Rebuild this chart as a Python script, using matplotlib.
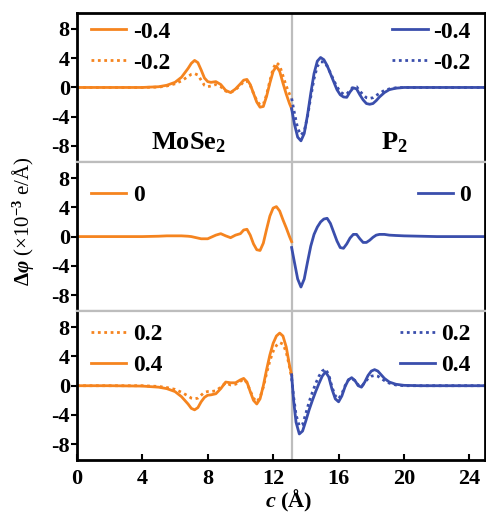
import numpy as np
import matplotlib
matplotlib.use("Agg")
import matplotlib.pyplot as plt

plt.rcParams['font.family'] = ['Liberation Serif', 'DejaVu Serif']
plt.rcParams['mathtext.fontset'] = 'custom'
plt.rcParams['mathtext.rm'] = 'Liberation Serif:bold'
plt.rcParams['mathtext.it'] = 'Liberation Serif:bold:italic'
plt.rcParams['mathtext.bf'] = 'Liberation Serif:bold'

orange = '#F5841F'
blue = '#3A4EAC'
grey = '#BDBDBD'
c_interface = 13.13

# MoSe2 side (orange)
x_mo = [0, 2, 4, 5, 5.5, 6, 6.4, 6.8, 7.0, 7.2, 7.4, 7.6, 7.8, 8.0, 8.2, 8.5, 8.8, 9.1, 9.4,
        9.7, 10.0, 10.2, 10.4, 10.6, 10.8, 11.0, 11.2, 11.4, 11.6, 11.8, 12.0, 12.2, 12.4,
        12.6, 12.8, 13.0, 13.13]
mo_m04 = [0, 0, 0, 0.1, 0.3, 0.7, 1.4, 2.6, 3.3, 3.7, 3.4, 2.4, 1.3, 0.8, 0.7, 0.8, 0.4, -0.4,
          -0.7, -0.2, 0.5, 1.0, 1.1, 0.4, -0.8, -2.0, -2.7, -2.6, -1.2, 0.6, 2.2, 2.9, 2.2,
          0.6, -0.9, -2.2, -2.9]
mo_m02 = [0, 0, 0, 0.05, 0.2, 0.5, 0.9, 1.5, 1.8, 1.9, 1.7, 1.0, 0.3, 0.1, 0.2, 0.4, 0.1, -0.5,
          -0.7, -0.3, 0.3, 0.8, 0.9, 0.3, -0.8, -1.8, -2.4, -2.3, -1.0, 0.9, 2.6, 3.4, 3.0,
          1.6, 0.2, -0.9, -1.5]
mo_0 = [0, 0, 0, 0.05, 0.1, 0.1, 0.1, 0.05, 0, -0.1, -0.2, -0.3, -0.3, -0.3, -0.1, 0.2, 0.4, 0.1,
        -0.15, 0.2, 0.4, 0.9, 1.0, 0.2, -1.0, -1.8, -1.9, -0.9, 1.0, 2.8, 3.9, 4.1, 3.5,
        2.3, 1.2, 0.0, -0.7]
mo_p02 = [0, 0, 0, -0.1, -0.25, -0.5, -0.9, -1.4, -1.7, -1.8, -1.7, -1.3, -0.9, -0.8, -0.8, -0.7,
          -0.2, 0.4, 0.1, 0.2, 0.6, 0.9, 0.4, -0.7, -1.7, -2.2, -1.6, -0.2, 1.7, 3.4, 4.7, 5.5,
          5.9, 5.7, 4.6, 2.6, 1.0]
mo_p04 = [0, 0, -0.05, -0.2, -0.4, -0.8, -1.5, -2.5, -3.1, -3.3, -3.0, -2.2, -1.6, -1.3, -1.25,
          -1.1, -0.4, 0.5, 0.4, 0.4, 0.8, 1.0, 0.5, -0.8, -2.0, -2.5, -1.8, 0.0, 2.2, 4.2, 5.8,
          6.8, 7.2, 6.8, 5.3, 2.8, 1.5]

# P2 side (blue)
x_p = [13.13, 13.3, 13.5, 13.7, 13.9, 14.1, 14.3, 14.5, 14.7, 14.9, 15.1, 15.3, 15.5, 15.7, 15.9,
       16.1, 16.3, 16.5, 16.7, 16.9, 17.1, 17.3, 17.5, 17.7, 17.9, 18.1, 18.3, 18.5, 18.8, 19.1,
       19.5, 20, 21, 22, 25]
p_m04 = [-2.9, -5.0, -6.8, -7.3, -6.3, -3.8, -0.8, 1.9, 3.6, 4.1, 3.8, 3.0, 1.9, 0.8, -0.3,
         -1.0, -1.3, -1.35, -0.6, -0.05, -0.2, -1.0, -1.7, -2.2, -2.3, -2.2, -1.8, -1.3, -0.7,
         -0.3, -0.1, 0, 0, 0, 0]
p_m02 = [-1.5, -3.5, -5.6, -6.5, -6.0, -4.0, -1.3, 1.2, 2.9, 3.5, 3.5, 2.9, 2.0, 1.0, 0.1,
         -0.6, -0.9, -0.9, -0.4, 0.1, 0.1, -0.5, -1.0, -1.4, -1.5, -1.4, -1.1, -0.8, -0.4,
         -0.2, -0.05, 0, 0, 0, 0]
p_0 = [-1.5, -3.5, -5.8, -6.9, -5.8, -3.5, -1.3, 0.3, 1.3, 2.0, 2.4, 2.5, 1.8, 0.6, -0.6,
       -1.5, -1.6, -1.0, -0.2, 0.3, 0.3, -0.3, -0.8, -0.8, -0.5, -0.1, 0.2, 0.3, 0.3, 0.2,
       0.15, 0.1, 0.05, 0, 0]
x_p2 = [13.13, 13.25, 13.4, 13.6, 13.8, 14.0, 14.2, 14.4, 14.6, 14.8, 15.0, 15.2, 15.4, 15.6,
        15.8, 16.0, 16.2, 16.4, 16.6, 16.8, 17.0, 17.2, 17.4, 17.6, 17.8, 18.0, 18.2, 18.4,
        18.6, 18.8, 19.1, 19.5, 20, 21, 25]
p_p02 = [1.0, -1.5, -4.0, -5.5, -5.3, -3.8, -2.2, -0.9, 0.3, 1.3, 2.0, 2.3, 1.5, -0.2, -1.4,
         -1.8, -1.1, 0.0, 0.8, 1.0, 0.7, 0.1, -0.1, 0.4, 1.0, 1.3, 1.4, 1.3, 1.0, 0.7, 0.35,
         0.1, 0, 0, 0]
p_p04 = [1.5, -2.0, -5.0, -6.6, -6.2, -4.8, -3.3, -2.0, -0.8, 0.3, 1.3, 1.9, 1.2, -0.5, -1.8,
         -2.2, -1.4, -0.1, 0.8, 1.1, 0.7, 0.0, -0.2, 0.5, 1.4, 2.0, 2.2, 2.0, 1.5, 1.0, 0.5,
         0.2, 0.05, 0, 0]

fig, axes = plt.subplots(3, 1, figsize=(4.86, 5.16), dpi=100, sharex=True)
fig.subplots_adjust(left=0.158, right=0.998, top=0.975, bottom=0.108, hspace=0)

lw = 2.0
dot = (0, (1, 1.3))

panels = [
    ([(x_mo, mo_m04, '-', '-0.4'), (x_mo, mo_m02, dot, '-0.2')],
     [(x_p, p_m04, '-', '-0.4'), (x_p, p_m02, dot, '-0.2')]),
    ([(x_mo, mo_0, '-', '0')],
     [(x_p, p_0, '-', '0')]),
    ([(x_mo, mo_p02, dot, '0.2'), (x_mo, mo_p04, '-', '0.4')],
     [(x_p2, p_p02, dot, '0.2'), (x_p2, p_p04, '-', '0.4')]),
]
leg_top = [1.04, 0.945, 1.01]

for i, (ax, (left, right)) in enumerate(zip(axes, panels)):
    hl, hr = [], []
    for x, y, ls, lab in left:
        ln, = ax.plot(x, y, color=orange, lw=lw, ls=ls, label=lab)
        hl.append(ln)
    for x, y, ls, lab in right:
        ln, = ax.plot(x, y, color=blue, lw=lw, ls=ls, label=lab)
        hr.append(ln)
    ax.axvline(c_interface, color=grey, lw=1.6, zorder=0)
    ax.set_ylim(-10.2, 10.2)
    ax.set_xlim(0, 24.95)
    ax.set_yticks([-8, -4, 0, 4, 8])
    ax.set_yticklabels(['-8', '-4', '0', '4', '8'])
    for lbl in ax.get_yticklabels():
        lbl.set_fontweight('bold')
    ax.tick_params(axis='y', direction='out', length=4, width=1.5, labelsize=16, pad=1)
    for s in ax.spines.values():
        s.set_linewidth(2.0)
        s.set_color('black')
    if i > 0:
        ax.spines['top'].set_color(grey)
        ax.spines['top'].set_linewidth(1.6)
    if i < 2:
        ax.spines['bottom'].set_color(grey)
        ax.spines['bottom'].set_linewidth(1.6)
        ax.tick_params(axis='x', bottom=False, labelbottom=False)
    leg1 = ax.legend(handles=hl, loc='upper left', bbox_to_anchor=(0.0, leg_top[i]),
                     frameon=False, handlelength=1.5, prop={'weight': 'bold', 'size': 17},
                     borderaxespad=0.2, labelspacing=0.4, handletextpad=0.3)
    ax.add_artist(leg1)
    ax.legend(handles=hr, loc='upper right', bbox_to_anchor=(1.0, leg_top[i]),
              frameon=False, handlelength=1.5, prop={'weight': 'bold', 'size': 17},
              borderaxespad=0.2, labelspacing=0.4, handletextpad=0.25)

ax = axes[0]
ax.text(6.8, -7.5, r'MoSe$_2$', fontsize=19, fontweight='bold', ha='center', va='center')
ax.text(19.4, -7.5, r'P$_2$', fontsize=19, fontweight='bold', ha='center', va='center')

axb = axes[2]
axb.set_xticks([0, 4, 8, 12, 16, 20, 24])
axb.tick_params(axis='x', direction='in', length=4, width=1.5, labelsize=16, pad=6)
for lbl in axb.get_xticklabels():
    lbl.set_fontweight('bold')
axb.set_xlabel(r'$c$ (Å)', fontsize=16, fontweight='bold', labelpad=0)
axb.xaxis.set_label_coords(0.52, -0.185)

fig.text(0.048, 0.572, r'$\mathit{\Delta\varphi}$ (×10$^{-3}$ e/Å)', rotation=90,
         fontsize=15, ha='center', va='center')

fig.savefig('out.png', dpi=100)
